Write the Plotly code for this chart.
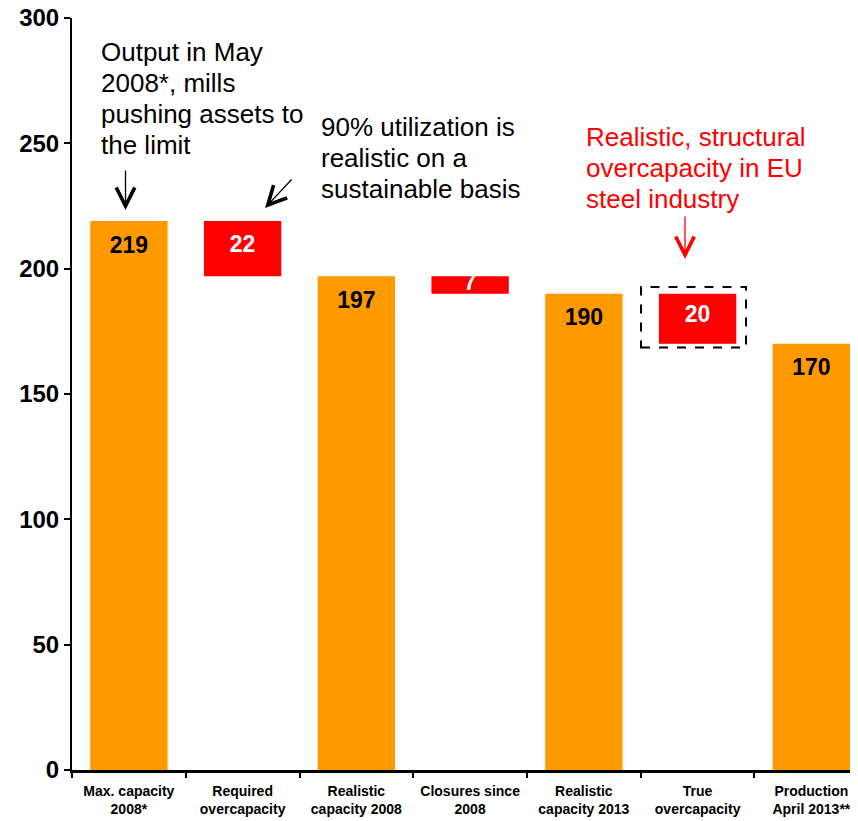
import plotly.graph_objects as go

# ---- data ----
categories = ["Max. capacity<br>2008*", "Required<br>overcapacity", "Realistic<br>capacity 2008",
              "Closures since<br>2008", "Realistic<br>capacity 2013", "True<br>overcapacity",
              "Production<br>April 2013**"]
values = [219, 22, 197, 7, 190, 20, 170]
bases = [0, 197, 0, 190, 0, 170, 0]
is_delta = [False, True, False, True, False, True, False]
y_ticks = [0, 50, 100, 150, 200, 250, 300]

note_output = ["Output in May", "2008*, mills", "pushing assets to", "the limit"]
note_util = ["90% utilization is", "realistic on a", "sustainable basis"]
note_struct = ["Realistic, structural", "overcapacity in EU", "steel industry"]

# ---- styling / layout helpers ----
ORANGE = "#FF9900"
RED = "#FF0000"
FONT = "Liberation Sans, Arial, sans-serif"
OFF = 8                      # page body margin
W, H = 858 - OFF, 821 - OFF
PL, PT, PB, PR = 72, 18, 770, 858   # plot area edges in page pixels
ML, MT = PL - OFF, PT - OFF
MB = H - (PB - OFF)
PW, PH = PR - PL, PB - PT
XR = [-0.5, 6.41]
YR = [0, 300]


def xd(px):
    return XR[0] + (px - PL) / PW * (XR[1] - XR[0])


def yd(py):
    return (PB - py) / PH * (YR[1] - YR[0])


colors = [RED if d else ORANGE for d in is_delta]
label_colors = ["white" if d else "black" for d in is_delta]
tops = [b + v for b, v in zip(bases, values)]
label_y = [t - min(10.3, 0.45 * v) for t, v in zip(tops, values)]

fig = go.Figure()
fig.add_trace(go.Bar(
    x=categories, y=values, base=bases, width=0.68,
    marker=dict(color=colors, line=dict(width=0)),
    hoverinfo="skip", showlegend=False,
))
fig.add_trace(go.Scatter(
    x=categories, y=label_y, mode="text", text=[str(v) for v in values],
    textfont=dict(family=FONT, size=23, color=label_colors, weight="bold"),
    hoverinfo="skip", showlegend=False, cliponaxis=False,
))

annotations = []


def add_lines(lines, left_px, first_center_px, step_px, color):
    for i, line in enumerate(lines):
        annotations.append(dict(
            x=xd(left_px), y=yd(first_center_px + i * step_px), xref="x", yref="y",
            text=line, showarrow=False, xanchor="left", yanchor="middle",
            font=dict(family=FONT, size=26, color=color),
        ))


add_lines(note_output, 99, 52, 31, "black")
add_lines(note_util, 319, 127, 31, "black")
add_lines(note_struct, 584, 137, 31, RED)


def add_arrow(head, tail, color):
    annotations.append(dict(
        x=xd(head[0]), y=yd(head[1]), ax=xd(tail[0]), ay=yd(tail[1]),
        xref="x", yref="y", axref="x", ayref="y", text="",
        showarrow=True, arrowhead=5, arrowsize=2.8, arrowwidth=1.3, arrowcolor=color,
        standoff=0,
    ))


add_arrow((125.5, 210), (125.5, 169), "black")
add_arrow((265, 208), (293, 178), "black")
add_arrow((685, 259), (685, 215), RED)

shapes = [dict(
    type="rect", xref="x", yref="y",
    x0=xd(641), x1=xd(746), y0=yd(347.5), y1=yd(287),
    line=dict(color="black", width=2, dash="dash"), fillcolor="rgba(0,0,0,0)",
)]

fig.update_layout(
    width=W, height=H,
    margin=dict(l=ML, r=0, t=MT, b=MB, pad=0, autoexpand=False),
    plot_bgcolor="white", paper_bgcolor="white",
    bargap=0.3,
    annotations=annotations, shapes=shapes,
    xaxis=dict(
        type="category", range=XR, tickson="boundaries", tickangle=0, automargin=False,
        showline=True, linecolor="black", linewidth=2.5,
        ticks="outside", ticklen=5, tickwidth=2, tickcolor="black",
        ticklabelstandoff=6, ticklabeloverflow="allow",
        tickfont=dict(family=FONT, size=14, color="black", weight="bold"),
        showgrid=False, zeroline=False, fixedrange=True,
    ),
    yaxis=dict(
        range=YR, tickvals=y_ticks, ticktext=[str(t) for t in y_ticks], automargin=False,
        showline=True, linecolor="black", linewidth=2,
        ticks="outside", ticklen=6, tickwidth=2, tickcolor="black",
        ticklabeloverflow="allow",
        tickfont=dict(family=FONT, size=24, color="black", weight="bold"),
        showgrid=False, zeroline=False, fixedrange=True,
    ),
)

fig.write_html("out.html")
